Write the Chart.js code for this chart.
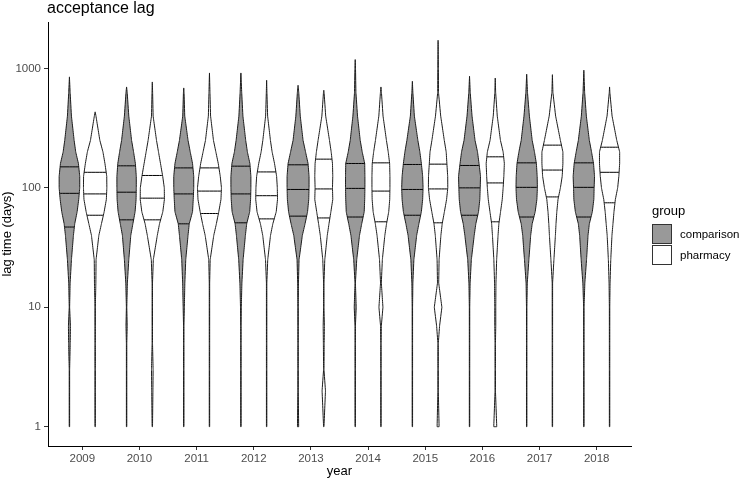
<!DOCTYPE html>
<html>
<head>
<meta charset="utf-8">
<script src="https://cdn.jsdelivr.net/npm/chart.js@4.4.1/dist/chart.umd.min.js"></script>
<style>
  html, body { margin: 0; padding: 0; background: #fff; }
  #chart { display: block; }
</style>
</head>
<body>
<canvas id="chart" width="740" height="481"></canvas>
<script>
// years on the x axis, one violin pair per year
const years = [2009, 2010, 2011, 2012, 2013, 2014, 2015, 2016, 2017, 2018];
const groupNames = ["comparison", "pharmacy"];
const yTicks = [1, 10, 100, 1000];

const levels = [1, 2, 3, 5, 7, 10, 16, 25, 40, 50, 63, 80, 100, 125, 160, 200, 250, 400, 630, 1000];

// longest lag per violin
const comparisonTop = [850, 700, 687, 917, 723, 1187, 782, 860, 894, 966];
const pharmacyTop = [433, 771, 917, 797, 657, 700, 1722, 832, 887, 700];

// relative density (violin half width) at each level
const comparisonDensity = [
  [0.2, 0.2, 0.2, 0.8, 1.0, 0.2, 0.7, 2.0, 4.0, 5.3, 7.7, 9.3, 10.3, 10.3, 9.0, 6.3, 4.7, 2.0, 0.7, 0],
  [0.2, 0.2, 0.2, 0.2, 0.6, 0.2, 0.8, 2.2, 4.2, 6.3, 8.5, 9.5, 9.7, 9.7, 8.8, 7.0, 5.0, 2.2, 0.6, 0],
  [0.2, 0.2, 0.2, 0.2, 0.2, 0.6, 1.1, 2.0, 4.3, 5.5, 8.8, 9.5, 10.0, 10.0, 8.8, 6.5, 4.3, 1.0, 0.3, 0],
  [0.2, 0.2, 0.2, 0.2, 0.2, 0.4, 1.0, 2.2, 4.5, 5.8, 8.8, 9.7, 10.0, 10.0, 9.0, 6.5, 4.8, 2.0, 0.8, 0],
  [0.6, 0.2, 0.2, 0.2, 0.2, 0.2, 0.4, 1.0, 4.3, 7.0, 9.5, 10.7, 11.0, 11.0, 10.0, 7.5, 5.0, 2.2, 0.7, 0],
  [0.2, 0.2, 0.2, 0.2, 0.2, 1.0, 0.2, 1.5, 4.3, 6.5, 9.0, 9.5, 9.7, 9.7, 9.5, 7.0, 5.0, 2.3, 0.7, 0.3],
  [0.2, 0.2, 0.2, 0.2, 0.2, 0.2, 0.5, 1.5, 4.3, 6.5, 9.0, 10.3, 10.7, 10.3, 9.0, 7.5, 5.5, 2.0, 0.5, 0],
  [0.2, 0.2, 0.2, 0.2, 0.2, 0.2, 0.6, 1.8, 4.7, 6.3, 9.0, 10.3, 10.7, 11.0, 9.5, 8.0, 5.5, 2.5, 0.7, 0],
  [0.2, 0.2, 0.2, 0.2, 0.2, 0.2, 0.6, 2.2, 4.0, 5.5, 8.5, 10.2, 10.7, 10.5, 9.7, 7.8, 5.5, 2.7, 0.8, 0],
  [0.2, 0.2, 0.2, 0.2, 0.2, 0.2, 1.0, 2.7, 4.2, 5.5, 8.5, 10.0, 10.3, 10.7, 9.7, 7.7, 5.5, 2.5, 0.8, 0]
];
const pharmacyDensity = [
  [0.2, 0.2, 0.2, 0.2, 0.2, 0.2, 0.7, 0.9, 3.7, 6.3, 9.0, 11.2, 11.7, 11.6, 9.8, 7.8, 4.7, 0.8, 0, 0],
  [0.2, 0.6, 0.8, 0.2, 0.2, 0.2, 0.2, 1.0, 5.0, 7.2, 10.5, 12.1, 12.0, 10.4, 8.2, 6.2, 4.2, 0.8, 0.3, 0],
  [0.2, 0.2, 0.2, 0.2, 0.2, 0.2, 0.2, 0.7, 4.3, 6.9, 9.3, 11.5, 12.0, 10.8, 8.8, 6.4, 4.0, 1.1, 0.5, 0],
  [0.2, 0.2, 0.2, 0.2, 0.2, 0.2, 0.2, 1.1, 3.9, 6.2, 9.6, 10.9, 10.7, 10.0, 7.9, 5.5, 3.8, 1.0, 0.3, 0],
  [0.2, 1.7, 0.2, 0.4, 0.6, 0.2, 0.2, 1.0, 3.5, 5.2, 7.1, 9.0, 8.7, 9.0, 8.7, 7.4, 5.7, 1.9, 0.3, 0],
  [0.2, 0.2, 0.2, 0.2, 0.4, 2.0, 0.4, 1.4, 3.9, 5.6, 7.8, 8.8, 9.0, 9.0, 8.7, 7.3, 5.5, 2.1, 0.5, 0],
  [1.0, 0.2, 0.2, 0.2, 1.5, 3.8, 0.6, 1.0, 2.8, 4.1, 6.3, 8.5, 9.7, 9.6, 8.8, 8.1, 6.2, 2.6, 0.4, 0.3],
  [1.5, 0.2, 0.2, 0.2, 0.5, 0.5, 0.7, 1.4, 2.8, 3.6, 5.3, 7.0, 7.9, 8.6, 9.1, 7.9, 5.2, 2.0, 0.4, 0],
  [0.2, 0.2, 0.2, 0.2, 0.2, 0.2, 0.2, 1.5, 3.0, 3.6, 4.4, 5.6, 8.0, 9.8, 10.5, 10.5, 8.0, 3.2, 0.5, 0],
  [0.2, 0.2, 0.2, 0.2, 0.2, 0.2, 0.5, 1.2, 2.4, 3.4, 4.4, 5.8, 8.1, 9.3, 10.1, 10.1, 7.2, 2.5, 0.3, 0]
];

// 25th, 50th, 75th percentile lines
const comparisonQuartiles = [
  [47, 90, 150], [54, 92, 153], [50, 89, 147], [51, 89, 152], [58, 97, 156],
  [57, 99, 160], [59, 97, 157], [59, 100, 154], [57, 101, 162], [57, 101, 162]
];
const pharmacyQuartiles = [
  [59, 89, 135], [54, 82, 127], [61, 94, 147], [55, 86, 136], [56, 98, 174],
  [52, 94, 162], [51, 98, 158], [52, 110, 182], [84, 141, 228], [75, 135, 219]
];

const FONT = "'Liberation Sans', Arial, sans-serif";
const DODGE = 0.225;        // dodge offset of each group from the year
const HALF_WIDTH = 1 / 57.2; // x units per density unit
// tiny tension keeps chart.js off its x-sorted "fast path", which collapses vertical outlines
const TENSION = 0.0001;

const groups = [
  { name: groupNames[0], offset: -DODGE, fill: "#999999", dens: comparisonDensity, top: comparisonTop, quart: comparisonQuartiles },
  { name: groupNames[1], offset: DODGE, fill: "#ffffff", dens: pharmacyDensity, top: pharmacyTop, quart: pharmacyQuartiles }
];

function densityAt(dens, v) {
  const lv = Math.log10(v);
  for (let i = 0; i < levels.length - 1; i++) {
    const a = Math.log10(levels[i]), b = Math.log10(levels[i + 1]);
    if (lv >= a && lv <= b) {
      return dens[i] + (dens[i + 1] - dens[i]) * (lv - a) / (b - a);
    }
  }
  return 0;
}

function outline(center, dens, top) {
  const left = [], right = [];
  levels.forEach((lv, i) => {
    if (lv < top) {
      left.push({ x: center - dens[i] * HALF_WIDTH, y: lv });
      right.push({ x: center + dens[i] * HALF_WIDTH, y: lv });
    }
  });
  const pts = left.concat([{ x: center, y: top }], right.reverse());
  pts.push(left[0]);
  return pts;
}

const datasets = [];
years.forEach((yr, i) => {
  groups.forEach(g => {
    const c = yr + g.offset;
    datasets.push({
      data: outline(c, g.dens[i], g.top[i]),
      order: 2,
      showLine: true,
      fill: "shape",
      backgroundColor: g.fill,
      borderColor: "#1a1a1a",
      borderWidth: 1,
      pointRadius: 0,
      tension: TENSION
    });
    g.quart[i].forEach(q => {
      const w = densityAt(g.dens[i], q) * HALF_WIDTH;
      datasets.push({
        data: [{ x: c - w, y: q }, { x: c + w, y: q }],
        order: 1,
        showLine: true,
        fill: false,
        borderColor: "#000000",
        borderWidth: 1,
        pointRadius: 0,
        tension: TENSION
      });
    });
  });
});

// plot title and group legend
const decorations = {
  id: "decorations",
  afterDraw(chart) {
    const ctx = chart.ctx;
    ctx.save();
    ctx.fillStyle = "#000";
    ctx.textBaseline = "alphabetic";
    ctx.textAlign = "left";
    ctx.font = "16px " + FONT;
    ctx.fillText("acceptance lag", chart.chartArea.left - 1, 12.5);

    ctx.font = "13px " + FONT;
    ctx.fillText("group", 652, 215);
    groups.forEach((g, k) => {
      const y = 224.5 + k * 21;
      ctx.fillStyle = g.fill;
      ctx.fillRect(652.5, y, 19, 19);
      ctx.strokeStyle = "#333";
      ctx.lineWidth = 1;
      ctx.strokeRect(652.5, y, 19, 19);
      ctx.fillStyle = "#000";
      ctx.font = "11.5px " + FONT;
      ctx.textBaseline = "middle";
      ctx.fillText(g.name, 680, y + 10);
      ctx.textBaseline = "alphabetic";
    });
    ctx.restore();
  }
};

new Chart(document.getElementById("chart"), {
  type: "scatter",
  data: { datasets },
  plugins: [decorations],
  options: {
    responsive: false,
    animation: false,
    devicePixelRatio: 1,
    layout: { padding: { top: 22, right: 109, left: 0, bottom: 0 } },
    elements: { line: { capBezierPoints: false } },
    plugins: {
      legend: { display: false },
      tooltip: { enabled: false }
    },
    scales: {
      x: {
        type: "linear",
        min: 2008.4,
        max: 2018.6,
        afterBuildTicks: scale => { scale.ticks = years.map(v => ({ value: v })); },
        afterFit: scale => { scale.height = 35; },
        ticks: {
          callback: v => String(v),
          color: "#4d4d4d",
          font: { size: 11.5, family: FONT },
          padding: 2,
          maxRotation: 0
        },
        grid: { drawOnChartArea: false, tickLength: 4, color: "#333" },
        border: { color: "#000", width: 1 },
        title: {
          display: true,
          text: "year",
          color: "#000",
          font: { size: 13, family: FONT },
          padding: { top: 0, bottom: 2 }
        }
      },
      y: {
        type: "logarithmic",
        min: 0.6895,
        max: 2449,
        afterBuildTicks: scale => { scale.ticks = yTicks.map(v => ({ value: v })); },
        afterFit: scale => { scale.width = 48; },
        ticks: {
          callback: v => String(v),
          color: "#4d4d4d",
          font: { size: 11.5, family: FONT },
          padding: 3
        },
        grid: { drawOnChartArea: false, tickLength: 4, color: "#333" },
        border: { color: "#000", width: 1 },
        title: {
          display: true,
          text: "lag time (days)",
          color: "#000",
          font: { size: 13, family: FONT },
          padding: { top: 0, bottom: 0 }
        }
      }
    }
  }
});
</script>
</body>
</html>
